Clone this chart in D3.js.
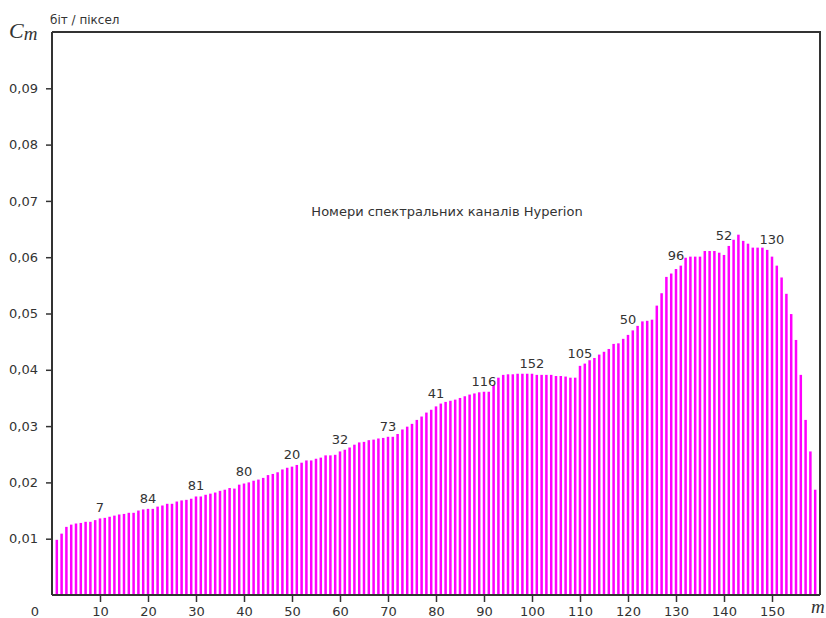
<!DOCTYPE html>
<html>
<head>
<meta charset="utf-8">
<script src="https://cdn.jsdelivr.net/npm/d3@7"></script>
<style>
  html, body { margin: 0; padding: 0; background: #fff; }
  svg { display: block; }
</style>
</head>
<body>
<svg id="chart" width="826" height="618"></svg>
<script>
// ---- data ----
const values = [
  0.0098, 0.0109, 0.0121, 0.0125, 0.0127, 0.0128, 0.0130, 0.0130, 0.0133, 0.0136,
  0.0137, 0.0139, 0.0141, 0.0143, 0.0144, 0.0146, 0.0146, 0.0150, 0.0152, 0.0153,
  0.0153, 0.0157, 0.0159, 0.0162, 0.0162, 0.0166, 0.0168, 0.0169, 0.0171, 0.0175,
  0.0175, 0.0178, 0.0180, 0.0182, 0.0185, 0.0187, 0.0190, 0.0189, 0.0196, 0.0198,
  0.0200, 0.0203, 0.0205, 0.0208, 0.0213, 0.0215, 0.0218, 0.0223, 0.0226, 0.0228,
  0.0231, 0.0235, 0.0239, 0.0239, 0.0242, 0.0244, 0.0248, 0.0248, 0.0249, 0.0255,
  0.0258, 0.0262, 0.0267, 0.0271, 0.0272, 0.0275, 0.0276, 0.0278, 0.0279, 0.0281,
  0.0281, 0.0286, 0.0294, 0.0299, 0.0304, 0.0311, 0.0317, 0.0324, 0.0329, 0.0335,
  0.0340, 0.0343, 0.0345, 0.0347, 0.0350, 0.0353, 0.0356, 0.0358, 0.0360, 0.0361,
  0.0361, 0.0373, 0.0386, 0.0391, 0.0392, 0.0392, 0.0393, 0.0393, 0.0393, 0.0393,
  0.0391, 0.0391, 0.0391, 0.0391, 0.0389, 0.0389, 0.0388, 0.0386, 0.0386, 0.0407,
  0.0411, 0.0417, 0.0421, 0.0427, 0.0432, 0.0437, 0.0446, 0.0447, 0.0455, 0.0462,
  0.0470, 0.0478, 0.0486, 0.0487, 0.0489, 0.0514, 0.0536, 0.0565, 0.0571, 0.0579,
  0.0585, 0.0599, 0.0601, 0.0601, 0.0601, 0.0611, 0.0611, 0.0611, 0.0608, 0.0604,
  0.0620, 0.0631, 0.0640, 0.0629, 0.0624, 0.0617, 0.0617, 0.0617, 0.0613, 0.0601,
  0.0585, 0.0564, 0.0535, 0.0499, 0.0453, 0.0391, 0.0311, 0.0255, 0.0187
];
const channelPositions = [10, 20, 30, 40, 50, 60, 70, 80, 90, 100, 110, 120, 130, 140, 150];
const channelLabels = ["7", "84", "81", "80", "20", "32", "73", "41", "116", "152", "105", "50", "96", "52", "130"];
const xTicks = [10, 20, 30, 40, 50, 60, 70, 80, 90, 100, 110, 120, 130, 140, 150];
const yTicks = [0.01, 0.02, 0.03, 0.04, 0.05, 0.06, 0.07, 0.08, 0.09];
const unitLabel = "біт / піксел";
const centerTitle = "Номери спектральних каналів Hyperion";

// ---- layout ----
const plotLeft = 52, plotTop = 32, plotRight = 820, plotBottom = 595;
const svg = d3.select("#chart");
const font = "'DejaVu Sans', Verdana, sans-serif";
const axisColor = "#333";

const x = d3.scaleLinear().domain([0, 160]).range([plotLeft, plotRight]);
const y = d3.scaleLinear().domain([0, 0.1]).range([plotBottom, plotTop]);

// bars
const bw = 2.5;
svg.append("g").selectAll("rect")
  .data(values)
  .join("rect")
  .attr("x", (d, i) => x(i + 1) - bw / 2)
  .attr("y", d => y(d))
  .attr("width", bw)
  .attr("height", d => y(0) - y(d))
  .attr("fill", "#ff00ff");

// frame (top and right)
svg.append("path")
  .attr("d", `M${plotLeft},${plotTop}H${plotRight}V${plotBottom}`)
  .attr("fill", "none")
  .attr("stroke", axisColor)
  .attr("stroke-width", 2);

// y axis
const yAxis = svg.append("g")
  .attr("transform", `translate(${plotLeft},0)`)
  .call(d3.axisLeft(y).tickValues(yTicks).tickSize(6).tickPadding(8)
    .tickFormat(d => d3.format(".2f")(d).replace(".", ",")));
yAxis.select(".domain").attr("d", `M0,${plotTop}V${plotBottom}`).attr("stroke", axisColor).attr("stroke-width", 2);
yAxis.selectAll(".tick line").attr("stroke", axisColor).attr("stroke-width", 1.5);
yAxis.selectAll("text").attr("fill", axisColor).style("font-family", font).style("font-size", "13px");

// x axis
const xAxis = svg.append("g")
  .attr("transform", `translate(0,${plotBottom})`)
  .call(d3.axisBottom(x).tickValues(xTicks).tickSize(7).tickFormat(d3.format("d")));
xAxis.select(".domain").attr("d", `M${plotLeft},0H${plotRight}`).attr("stroke", axisColor).attr("stroke-width", 2);
xAxis.selectAll(".tick line").attr("stroke", axisColor).attr("stroke-width", 1.5);
xAxis.selectAll("text").attr("y", 21).attr("dy", "0").attr("fill", axisColor)
  .style("font-family", font).style("font-size", "13px");
xAxis.append("text")
  .attr("x", x(0) - 17).attr("y", 21)
  .attr("text-anchor", "middle").attr("fill", axisColor)
  .style("font-family", font).style("font-size", "13px")
  .text("0");

// channel labels above bars
svg.append("g").selectAll("text")
  .data(channelPositions)
  .join("text")
  .attr("x", m => x(m))
  .attr("y", m => y(Math.max(values[m - 2], values[m - 1], values[m])) - 6)
  .attr("text-anchor", "middle")
  .attr("fill", axisColor)
  .style("font-family", font)
  .style("font-size", "13px")
  .text((m, i) => channelLabels[i]);

// axis titles
const cm = svg.append("text")
  .attr("x", 9).attr("y", 38)
  .attr("fill", axisColor)
  .style("font-family", "'Liberation Serif', 'DejaVu Serif', serif")
  .style("font-style", "italic");
cm.append("tspan").style("font-size", "22px").text("C");
cm.append("tspan").style("font-size", "19px").attr("dy", 2).text("m");

svg.append("text")
  .attr("x", 50).attr("y", 24)
  .attr("fill", axisColor)
  .style("font-family", font).style("font-size", "12px")
  .text(unitLabel);

svg.append("text")
  .attr("x", 811).attr("y", 613)
  .attr("fill", axisColor)
  .style("font-family", "'Liberation Serif', 'DejaVu Serif', serif")
  .style("font-style", "italic").style("font-size", "19px")
  .text("m");

svg.append("text")
  .attr("x", 447).attr("y", 216)
  .attr("text-anchor", "middle")
  .attr("fill", axisColor)
  .style("font-family", font).style("font-size", "13px")
  .text(centerTitle);
</script>
</body>
</html>
